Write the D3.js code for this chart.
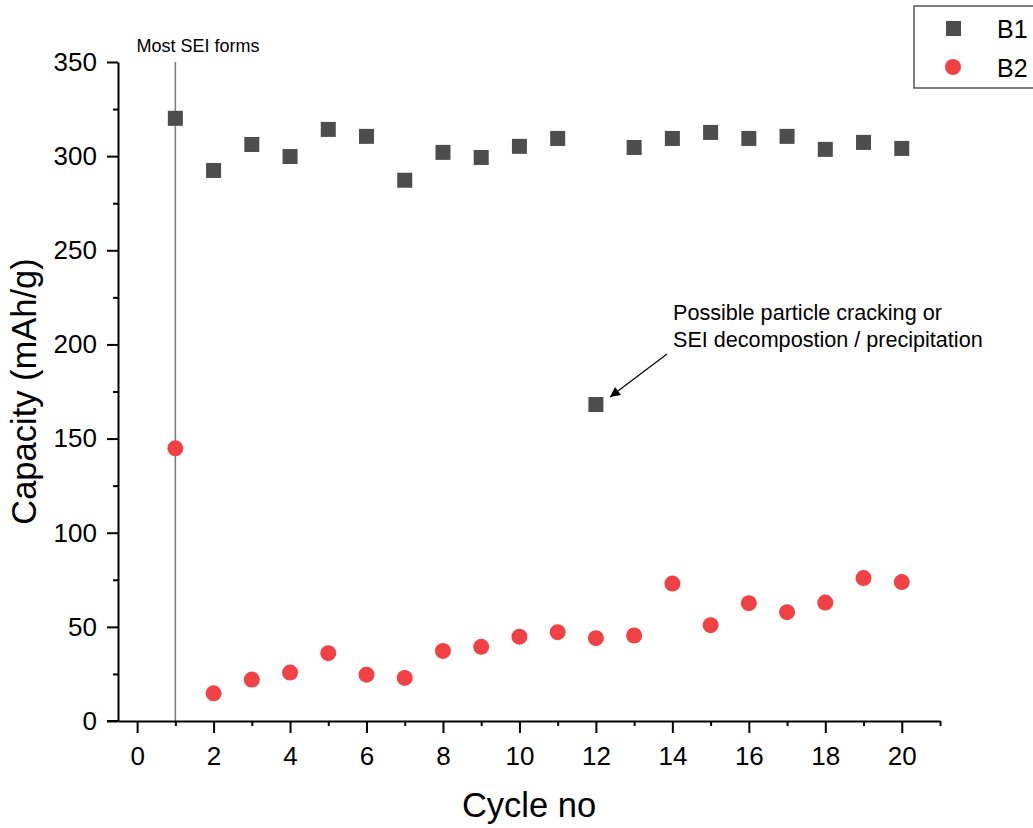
<!DOCTYPE html>
<html>
<head>
<meta charset="utf-8">
<script src="https://cdn.jsdelivr.net/npm/d3@7"></script>
<style>
  body { margin: 0; background: #fff; }
  text { font-family: "Liberation Sans", Arial, sans-serif; }
</style>
</head>
<body>
<div id="chart"></div>
<script>
// cycle numbers and capacities
var cycles = [1, 2, 3, 4, 5, 6, 7, 8, 9, 10, 11, 12, 13, 14, 15, 16, 17, 18, 19, 20];
var b1 = [320.1, 292.4, 306.2, 299.8, 314.2, 310.5, 287.2, 302.0, 299.3, 305.2,
          309.4, 168.1, 304.6, 309.4, 312.6, 309.4, 310.5, 303.6, 307.3, 304.1];
var b2 = [144.8, 14.7, 22.0, 25.7, 36.0, 24.6, 22.9, 37.2, 39.4, 44.8,
          47.2, 44.0, 45.4, 73.0, 50.9, 62.6, 57.8, 62.9, 75.9, 73.8];
var xTicks = [0, 2, 4, 6, 8, 10, 12, 14, 16, 18, 20];
var yTicks = [0, 50, 100, 150, 200, 250, 300, 350];
var seriesNames = ["B1", "B2"];

var W = 1033, H = 828;
var svg = d3.select("#chart").append("svg").attr("width", W).attr("height", H);

var x = d3.scaleLinear().domain([-0.5, 21]).range([118, 940]);
var y = d3.scaleLinear().domain([0, 350]).range([721, 62]);

var grey = "#4d4d4d", red = "#f04244";

// marker line at cycle 1
svg.append("line")
    .attr("x1", x(1)).attr("x2", x(1))
    .attr("y1", y(350)).attr("y2", y(0))
    .attr("stroke", "#7f7f7f").attr("stroke-width", 1.6);
svg.append("text").attr("x", 198).attr("y", 52)
    .attr("text-anchor", "middle").attr("font-size", 18).text("Most SEI forms");

// y axis
svg.append("g").attr("transform", "translate(" + x(-0.5) + ",0)")
    .call(d3.axisLeft(y).tickValues(yTicks).tickSize(11).tickPadding(10).tickSizeOuter(0));
svg.append("g").attr("transform", "translate(" + x(-0.5) + ",0)")
    .call(d3.axisLeft(y).tickValues(d3.range(25, 350, 50)).tickSize(5).tickFormat(""))
    .select(".domain").remove();

// x axis
svg.append("g").attr("transform", "translate(0," + y(0) + ")")
    .call(d3.axisBottom(x).tickValues(xTicks).tickSize(12).tickPadding(14).tickSizeOuter(0));
svg.append("g").attr("transform", "translate(0," + y(0) + ")")
    .call(d3.axisBottom(x).tickValues(d3.range(1, 22, 2)).tickSize(5).tickFormat(""))
    .select(".domain").remove();
svg.append("line").attr("x1", 107).attr("x2", x(-0.5))
    .attr("y1", y(0)).attr("y2", y(0)).attr("stroke", "#000").attr("stroke-width", 2);

svg.selectAll(".domain").attr("stroke", "#000").attr("stroke-width", 2);
svg.selectAll(".tick line").attr("stroke", "#000").attr("stroke-width", 2);
svg.selectAll(".tick text").attr("font-size", 26).attr("fill", "#000")
    .attr("font-family", "Liberation Sans, Arial, sans-serif");

// axis titles
svg.append("text").attr("x", (x(-0.5) + x(21)) / 2).attr("y", 817)
    .attr("text-anchor", "middle").attr("font-size", 34.5).text("Cycle no");
svg.append("text").attr("transform", "translate(36," + y(175) + ") rotate(-90)")
    .attr("text-anchor", "middle").attr("font-size", 34.5).text("Capacity (mAh/g)");

// data
var rows = cycles.map((c, i) => ({c: c, b1: b1[i], b2: b2[i]}));
svg.append("g").selectAll("rect").data(rows).join("rect")
    .attr("x", d => x(d.c) - 7.5).attr("y", d => y(d.b1) - 7.5)
    .attr("width", 15).attr("height", 15).attr("fill", grey);
svg.append("g").selectAll("circle").data(rows).join("circle")
    .attr("cx", d => x(d.c)).attr("cy", d => y(d.b2))
    .attr("r", 8).attr("fill", red);

// annotation
svg.append("defs").append("marker").attr("id", "arr")
    .attr("viewBox", "0 0 10 10").attr("refX", 10).attr("refY", 5)
    .attr("markerWidth", 14).attr("markerHeight", 10).attr("markerUnits", "userSpaceOnUse")
    .attr("orient", "auto")
    .append("path").attr("d", "M0,0 L10,5 L0,10 Z").attr("fill", "#000");
svg.append("line").attr("x1", 667).attr("y1", 354).attr("x2", 610).attr("y2", 397)
    .attr("stroke", "#000").attr("stroke-width", 1.2).attr("marker-end", "url(#arr)");
var ann = svg.append("text").attr("font-size", 21.6);
ann.append("tspan").attr("x", 673).attr("y", 320).text("Possible particle cracking or");
ann.append("tspan").attr("x", 673).attr("y", 347).text("SEI decompostion / precipitation");

// legend
var lg = svg.append("g");
lg.append("rect").attr("x", 914).attr("y", 6).attr("width", 130).attr("height", 82)
    .attr("fill", "#fff").attr("stroke", "#555").attr("stroke-width", 1.5);
lg.append("rect").attr("x", 946).attr("y", 21).attr("width", 15).attr("height", 15).attr("fill", grey);
lg.append("circle").attr("cx", 953).attr("cy", 67).attr("r", 8).attr("fill", red);
lg.selectAll("text.lab").data(seriesNames).join("text").attr("class", "lab")
    .attr("x", 997).attr("y", (d, i) => 38 + i * 39)
    .attr("font-size", 25).text(d => d);
</script>
</body>
</html>
